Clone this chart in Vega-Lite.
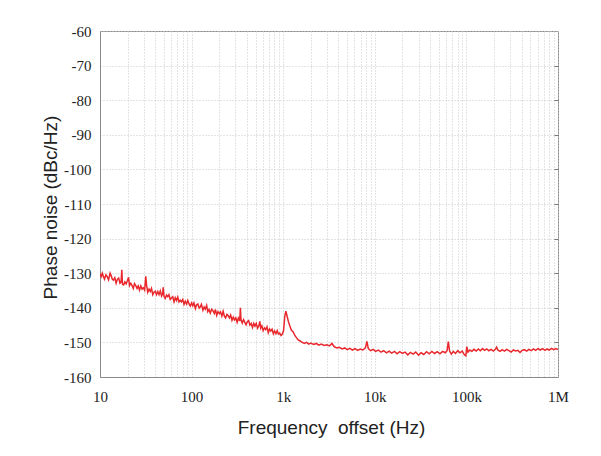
{
  "$schema": "https://vega.github.io/schema/vega-lite/v6.json",
  "width": 458,
  "height": 346,
  "autosize": "none",
  "padding": {"left": 100, "top": 31, "right": 43, "bottom": 79},
  "background": "white",
  "config": {
    "view": {"stroke": "#8a8a8a", "strokeWidth": 1}
  },
  "data": {
    "values": [
      {"freq": 10, "pn": -130.2}, {"freq": 10.3, "pn": -131.0}, {"freq": 10.6, "pn": -130.0}, {"freq": 10.9, "pn": -131.0},
      {"freq": 11.2, "pn": -131.7}, {"freq": 11.6, "pn": -130.5}, {"freq": 12, "pn": -131.0}, {"freq": 12.4, "pn": -131.9},
      {"freq": 12.9, "pn": -130.0}, {"freq": 13.2, "pn": -130.6}, {"freq": 13.6, "pn": -131.7}, {"freq": 14, "pn": -132.0},
      {"freq": 14.5, "pn": -131.3}, {"freq": 15, "pn": -132.9}, {"freq": 15.5, "pn": -131.7}, {"freq": 16, "pn": -131.4},
      {"freq": 16.5, "pn": -132.9}, {"freq": 17, "pn": -132.5}, {"freq": 17.3, "pn": -129.0}, {"freq": 17.6, "pn": -133.2},
      {"freq": 18.1, "pn": -133.4}, {"freq": 18.7, "pn": -132.5}, {"freq": 19.3, "pn": -133.1}, {"freq": 19.9, "pn": -132.2},
      {"freq": 20.5, "pn": -131.2}, {"freq": 21, "pn": -133.6}, {"freq": 21.7, "pn": -132.9}, {"freq": 22.4, "pn": -133.6},
      {"freq": 23.1, "pn": -134.4}, {"freq": 23.8, "pn": -133.0}, {"freq": 24.6, "pn": -133.6}, {"freq": 25.4, "pn": -134.4},
      {"freq": 26.2, "pn": -133.7}, {"freq": 27, "pn": -134.9}, {"freq": 27.9, "pn": -133.7}, {"freq": 28.8, "pn": -134.6},
      {"freq": 29.7, "pn": -134.2}, {"freq": 30.7, "pn": -134.9}, {"freq": 31.6, "pn": -130.9}, {"freq": 32.3, "pn": -133.6},
      {"freq": 33.2, "pn": -135.5}, {"freq": 34.3, "pn": -134.6}, {"freq": 35.4, "pn": -135.3}, {"freq": 36.5, "pn": -134.4},
      {"freq": 37.7, "pn": -136.2}, {"freq": 38.9, "pn": -135.5}, {"freq": 40.1, "pn": -135.2}, {"freq": 41.4, "pn": -136.2},
      {"freq": 42.7, "pn": -135.3}, {"freq": 44.1, "pn": -136.2}, {"freq": 45.5, "pn": -135.1}, {"freq": 47, "pn": -136.6},
      {"freq": 48.2, "pn": -136.0}, {"freq": 49, "pn": -134.1}, {"freq": 50, "pn": -136.7}, {"freq": 51.5, "pn": -137.3},
      {"freq": 53.2, "pn": -136.3}, {"freq": 54.9, "pn": -136.8}, {"freq": 56.6, "pn": -136.2}, {"freq": 58.4, "pn": -137.6},
      {"freq": 60.3, "pn": -137.2}, {"freq": 62.3, "pn": -136.8}, {"freq": 64.3, "pn": -138.3}, {"freq": 66.3, "pn": -137.1},
      {"freq": 68.4, "pn": -137.9}, {"freq": 70.6, "pn": -136.9}, {"freq": 72.9, "pn": -138.3}, {"freq": 75.2, "pn": -137.8},
      {"freq": 77.6, "pn": -138.3}, {"freq": 80.1, "pn": -137.6}, {"freq": 82.7, "pn": -139.0}, {"freq": 85.3, "pn": -138.1},
      {"freq": 88.1, "pn": -138.9}, {"freq": 90.9, "pn": -137.9}, {"freq": 93.8, "pn": -138.9}, {"freq": 96.8, "pn": -139.5},
      {"freq": 100, "pn": -138.6}, {"freq": 103, "pn": -139.4}, {"freq": 106, "pn": -138.6}, {"freq": 110, "pn": -140.2},
      {"freq": 113, "pn": -139.2}, {"freq": 117, "pn": -138.9}, {"freq": 121, "pn": -140.1}, {"freq": 124, "pn": -139.8},
      {"freq": 128, "pn": -139.0}, {"freq": 133, "pn": -140.7}, {"freq": 137, "pn": -139.8}, {"freq": 141, "pn": -140.4},
      {"freq": 146, "pn": -139.3}, {"freq": 150, "pn": -141.1}, {"freq": 155, "pn": -140.5}, {"freq": 160, "pn": -141.5},
      {"freq": 166, "pn": -140.4}, {"freq": 171, "pn": -140.8}, {"freq": 177, "pn": -141.6}, {"freq": 182, "pn": -140.5},
      {"freq": 188, "pn": -142.2}, {"freq": 194, "pn": -141.1}, {"freq": 201, "pn": -141.7}, {"freq": 207, "pn": -141.2},
      {"freq": 214, "pn": -142.4}, {"freq": 221, "pn": -141.0}, {"freq": 228, "pn": -142.4}, {"freq": 235, "pn": -142.9},
      {"freq": 243, "pn": -141.9}, {"freq": 251, "pn": -142.3}, {"freq": 259, "pn": -142.9}, {"freq": 267, "pn": -142.1},
      {"freq": 276, "pn": -143.6}, {"freq": 285, "pn": -142.7}, {"freq": 294, "pn": -143.5}, {"freq": 304, "pn": -142.9},
      {"freq": 314, "pn": -144.2}, {"freq": 324, "pn": -143.0}, {"freq": 335, "pn": -143.8}, {"freq": 341, "pn": -140.0},
      {"freq": 346, "pn": -143.4}, {"freq": 357, "pn": -144.4}, {"freq": 369, "pn": -143.4}, {"freq": 381, "pn": -144.2},
      {"freq": 393, "pn": -144.9}, {"freq": 406, "pn": -144.0}, {"freq": 419, "pn": -143.7}, {"freq": 433, "pn": -145.0},
      {"freq": 447, "pn": -144.5}, {"freq": 462, "pn": -145.7}, {"freq": 477, "pn": -144.5}, {"freq": 492, "pn": -145.3},
      {"freq": 508, "pn": -144.5}, {"freq": 525, "pn": -145.9}, {"freq": 542, "pn": -145.2}, {"freq": 556, "pn": -143.9},
      {"freq": 568, "pn": -145.9}, {"freq": 585, "pn": -145.2}, {"freq": 604, "pn": -146.6}, {"freq": 624, "pn": -145.8},
      {"freq": 644, "pn": -146.3}, {"freq": 665, "pn": -145.5}, {"freq": 687, "pn": -147.2}, {"freq": 709, "pn": -146.1},
      {"freq": 732, "pn": -146.7}, {"freq": 756, "pn": -146.2}, {"freq": 781, "pn": -147.5}, {"freq": 806, "pn": -146.7},
      {"freq": 833, "pn": -147.5}, {"freq": 860, "pn": -146.6}, {"freq": 888, "pn": -147.6}, {"freq": 917, "pn": -147.3},
      {"freq": 947, "pn": -148.0}, {"freq": 980, "pn": -147.6}, {"freq": 1010, "pn": -146.5}, {"freq": 1040, "pn": -142.5},
      {"freq": 1070, "pn": -141.0}, {"freq": 1100, "pn": -142.3}, {"freq": 1140, "pn": -144.0}, {"freq": 1180, "pn": -145.2},
      {"freq": 1230, "pn": -146.5}, {"freq": 1280, "pn": -146.9}, {"freq": 1340, "pn": -148.0}, {"freq": 1400, "pn": -148.7},
      {"freq": 1460, "pn": -149.3}, {"freq": 1530, "pn": -149.6}, {"freq": 1600, "pn": -149.9}, {"freq": 1700, "pn": -150.3},
      {"freq": 1800, "pn": -150.0}, {"freq": 1900, "pn": -150.5}, {"freq": 2000, "pn": -150.2}, {"freq": 2150, "pn": -150.6},
      {"freq": 2300, "pn": -150.3}, {"freq": 2450, "pn": -150.8}, {"freq": 2600, "pn": -150.5}, {"freq": 2800, "pn": -150.9},
      {"freq": 3000, "pn": -150.7}, {"freq": 3200, "pn": -151.0}, {"freq": 3400, "pn": -150.3}, {"freq": 3600, "pn": -151.2},
      {"freq": 3850, "pn": -151.6}, {"freq": 4100, "pn": -151.4}, {"freq": 4400, "pn": -151.9}, {"freq": 4700, "pn": -151.6},
      {"freq": 5000, "pn": -152.1}, {"freq": 5350, "pn": -151.7}, {"freq": 5700, "pn": -152.2}, {"freq": 6100, "pn": -151.8},
      {"freq": 6500, "pn": -152.3}, {"freq": 6950, "pn": -151.9}, {"freq": 7400, "pn": -152.2}, {"freq": 7900, "pn": -151.6},
      {"freq": 8200, "pn": -149.7}, {"freq": 8500, "pn": -151.8}, {"freq": 9000, "pn": -152.4}, {"freq": 9600, "pn": -152.0},
      {"freq": 10200, "pn": -152.6}, {"freq": 10900, "pn": -152.2}, {"freq": 11700, "pn": -152.8}, {"freq": 12500, "pn": -152.4},
      {"freq": 13400, "pn": -153.0}, {"freq": 14300, "pn": -152.5}, {"freq": 15300, "pn": -153.1}, {"freq": 16400, "pn": -152.6},
      {"freq": 17500, "pn": -153.3}, {"freq": 18700, "pn": -152.7}, {"freq": 20000, "pn": -153.2}, {"freq": 21400, "pn": -152.8},
      {"freq": 22900, "pn": -153.6}, {"freq": 24500, "pn": -152.9}, {"freq": 26200, "pn": -153.4}, {"freq": 28000, "pn": -152.8},
      {"freq": 30000, "pn": -153.7}, {"freq": 32000, "pn": -153.0}, {"freq": 34300, "pn": -153.5}, {"freq": 36700, "pn": -152.7},
      {"freq": 39200, "pn": -153.3}, {"freq": 42000, "pn": -152.6}, {"freq": 44900, "pn": -153.2}, {"freq": 48000, "pn": -152.7},
      {"freq": 51400, "pn": -153.3}, {"freq": 55000, "pn": -152.6}, {"freq": 58800, "pn": -153.0}, {"freq": 61500, "pn": -152.4},
      {"freq": 63500, "pn": -149.8}, {"freq": 65500, "pn": -152.5}, {"freq": 68500, "pn": -153.4}, {"freq": 72000, "pn": -152.6},
      {"freq": 76000, "pn": -153.2}, {"freq": 80500, "pn": -152.4}, {"freq": 85000, "pn": -153.0}, {"freq": 90000, "pn": -152.5},
      {"freq": 95000, "pn": -153.6}, {"freq": 98500, "pn": -153.9}, {"freq": 101000, "pn": -151.2}, {"freq": 104000, "pn": -152.8},
      {"freq": 109000, "pn": -152.2}, {"freq": 115000, "pn": -152.6}, {"freq": 121000, "pn": -152.0}, {"freq": 128000, "pn": -152.5},
      {"freq": 135000, "pn": -151.9}, {"freq": 142000, "pn": -152.4}, {"freq": 150000, "pn": -151.8}, {"freq": 158000, "pn": -152.3},
      {"freq": 167000, "pn": -151.9}, {"freq": 176000, "pn": -152.4}, {"freq": 186000, "pn": -152.0}, {"freq": 197000, "pn": -152.5},
      {"freq": 208000, "pn": -151.9}, {"freq": 214000, "pn": -151.4}, {"freq": 220000, "pn": -152.2}, {"freq": 233000, "pn": -152.6},
      {"freq": 246000, "pn": -152.1}, {"freq": 260000, "pn": -152.5}, {"freq": 275000, "pn": -152.0}, {"freq": 291000, "pn": -152.4},
      {"freq": 308000, "pn": -152.8}, {"freq": 326000, "pn": -152.2}, {"freq": 345000, "pn": -152.5}, {"freq": 365000, "pn": -152.3},
      {"freq": 385000, "pn": -152.9}, {"freq": 405000, "pn": -152.3}, {"freq": 430000, "pn": -152.1}, {"freq": 455000, "pn": -152.5},
      {"freq": 480000, "pn": -152.0}, {"freq": 510000, "pn": -152.4}, {"freq": 540000, "pn": -151.9}, {"freq": 570000, "pn": -152.3},
      {"freq": 605000, "pn": -151.8}, {"freq": 640000, "pn": -152.2}, {"freq": 680000, "pn": -151.8}, {"freq": 720000, "pn": -152.3},
      {"freq": 760000, "pn": -151.9}, {"freq": 800000, "pn": -152.2}, {"freq": 850000, "pn": -151.7}, {"freq": 900000, "pn": -152.1},
      {"freq": 950000, "pn": -151.8}, {"freq": 1000000, "pn": -152.1}
    ]
  },
  "layer": [
    {
      "mark": {"type": "line", "color": "#e8282c", "strokeWidth": 1.5, "clip": true},
      "encoding": {
        "x": {
          "field": "freq", "type": "quantitative",
          "scale": {"type": "log", "domain": [10, 1000000]},
          "axis": {
            "values": [10,20,30,40,50,60,70,80,90,100,200,300,400,500,600,700,800,900,1000,2000,3000,4000,5000,6000,7000,8000,9000,10000,20000,30000,40000,50000,60000,70000,80000,90000,100000,200000,300000,400000,500000,600000,700000,800000,900000,1000000],
            "labelExpr": "datum.value==10?'10':datum.value==100?'100':datum.value==1000?'1k':datum.value==10000?'10k':datum.value==100000?'100k':datum.value==1000000?'1M':''",
            "title": "Frequency\u00a0 offset (Hz)",
            "titleFont": "Liberation Sans", "titleFontSize": 19, "titleFontWeight": "normal", "titleColor": "#222",
            "titleX": 231, "titleY": 56, "titleBaseline": "alphabetic", "titleAnchor": "middle", "titleAlign": "center",
            "labelFont": "Liberation Serif", "labelFontSize": 15, "labelColor": "#222", "labelPadding": 12,
            "labelFlush": false, "labelOverlap": false,
            "tickSize": 0, "domainColor": "#8a8a8a",
            "grid": true, "gridColor": "#c8c8c8", "gridDash": [1, 2], "gridWidth": 1
          }
        },
        "y": {
          "field": "pn", "type": "quantitative",
          "scale": {"domain": [-160, -60]},
          "axis": {
            "values": [-160,-150,-140,-130,-120,-110,-100,-90,-80,-70,-60],
            "labelExpr": "'' + datum.value",
            "title": "Phase noise (dBc/Hz)",
            "titleFont": "Liberation Sans", "titleFontSize": 19, "titleFontWeight": "normal", "titleColor": "#222",
            "titleX": -44, "titleY": 176, "titleBaseline": "alphabetic", "titleAngle": -90, "titleAlign": "center",
            "labelFont": "Liberation Serif", "labelFontSize": 15, "labelColor": "#222", "labelPadding": 9,
            "labelFlush": false, "labelOverlap": false,
            "tickSize": 0, "domainColor": "#8a8a8a",
            "grid": true, "gridColor": "#c8c8c8", "gridDash": [1, 2], "gridWidth": 1
          }
        }
      }
    },
    {
      "mark": {"type": "line", "opacity": 0},
      "encoding": {
        "x": {"field": "freq", "type": "quantitative", "scale": {"type": "log", "domain": [10, 1000000]}},
        "y": {
          "field": "pn", "type": "quantitative", "scale": {"domain": [-160, -60]},
          "axis": {
            "orient": "right", "values": [-150,-140,-130,-120,-110,-100,-90,-80,-70],
            "labels": false, "title": null, "grid": false, "domain": false,
            "tickSize": -4, "tickColor": "#777"
          }
        }
      }
    }
  ],
  "resolve": {"axis": {"y": "independent"}}
}
